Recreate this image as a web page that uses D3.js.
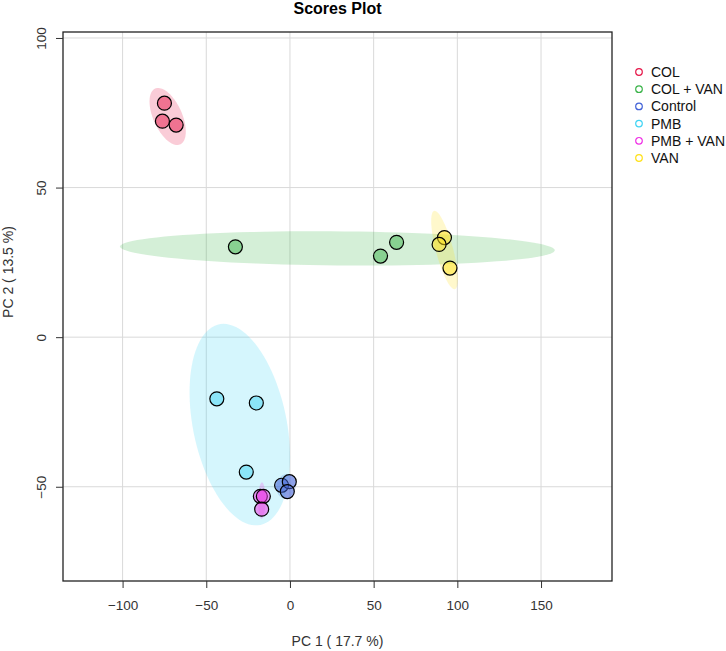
<!DOCTYPE html>
<html>
<head>
<meta charset="utf-8">
<script src="https://cdn.jsdelivr.net/npm/d3@7"></script>
<style>
  body { margin: 0; background: #fff; }
  text { font-family: "Liberation Sans", Arial, sans-serif; }
</style>
</head>
<body>
<svg id="chart" width="726" height="651"></svg>
<script>
// groups, in legend order
var groups = ["COL", "COL + VAN", "Control", "PMB", "PMB + VAN", "VAN"]
var colors = ["#E6194B", "#3CB44B", "#4363D8", "#42D4F4", "#F032E6", "#FFE119"]

// scores, one array per group
var pc1 = {
  "COL":       [-75.0, -76.2, -68.0],
  "COL + VAN": [-32.6, 54.1, 63.7],
  "Control":   [-5.0, -0.4, -1.6],
  "PMB":       [-43.7, -20.1, -26.1],
  "PMB + VAN": [-17.7, -15.9, -16.9],
  "VAN":       [92.3, 89.1, 95.6]
}
var pc2 = {
  "COL":       [78.2, 72.2, 70.9],
  "COL + VAN": [30.2, 27.1, 31.7],
  "Control":   [-49.5, -48.3, -51.6],
  "PMB":       [-20.6, -22.0, -45.1],
  "PMB + VAN": [-53.2, -53.2, -57.5],
  "VAN":       [33.3, 31.0, 23.1]
}

var xTicks = [-100, -50, 0, 50, 100, 150]
var yTicks = [-50, 0, 50, 100]

var plot = { left: 63, right: 612, top: 32, bottom: 581 }

var x = d3.scaleLinear().domain([-135.6, 192.4]).range([plot.left, plot.right])
var y = d3.scaleLinear().domain([-81.5, 102.0]).range([plot.bottom, plot.top])

var svg = d3.select("#chart")

/* grid */
svg.append("g").selectAll("line.vx")
  .data(xTicks).enter().append("line")
  .attr("x1", function(d) { return x(d) }).attr("x2", function(d) { return x(d) })
  .attr("y1", plot.top).attr("y2", plot.bottom)
  .style("stroke", "#d9d9d9").style("stroke-width", 1)
svg.append("g").selectAll("line.hy")
  .data(yTicks).enter().append("line")
  .attr("y1", function(d) { return y(d) }).attr("y2", function(d) { return y(d) })
  .attr("x1", plot.left).attr("x2", plot.right)
  .style("stroke", "#d9d9d9").style("stroke-width", 1)

/* 95% ellipse, same recipe as ellipse::ellipse in R */
function ellipsePts(xs, ys) {
  var n = xs.length
  var mx = d3.mean(xs), my = d3.mean(ys)
  var sxx = 0, syy = 0, sxy = 0
  for (var i = 0; i < n; i++) {
    sxx += (xs[i] - mx) * (xs[i] - mx)
    syy += (ys[i] - my) * (ys[i] - my)
    sxy += (xs[i] - mx) * (ys[i] - my)
  }
  sxx /= (n - 1); syy /= (n - 1); sxy /= (n - 1)
  var s1 = Math.sqrt(sxx), s2 = Math.sqrt(syy)
  var r = sxy / (s1 * s2)
  r = Math.max(-1, Math.min(1, r))
  var dd = Math.acos(r)
  var t = Math.sqrt(5.991465) // qchisq(0.95, 2)
  var pts = []
  for (var k = 0; k < 100; k++) {
    var a = k / 99 * 2 * Math.PI
    pts.push([mx + t * s1 * Math.cos(a + dd / 2), my + t * s2 * Math.cos(a - dd / 2)])
  }
  return pts
}

var line = d3.line()
  .x(function(d) { return x(d[0]) })
  .y(function(d) { return y(d[1]) })
  .curve(d3.curveLinearClosed)

svg.append("clipPath").attr("id", "clip")
  .append("rect").attr("x", plot.left).attr("y", plot.top)
  .attr("width", plot.right - plot.left).attr("height", plot.bottom - plot.top)

var layer = svg.append("g").attr("clip-path", "url(#clip)")

groups.forEach(function(g, i) {
  layer.append("path")
    .attr("d", line(ellipsePts(pc1[g], pc2[g])))
    .style("fill", colors[i])
    .style("fill-opacity", 0.22)
    .style("stroke", "none")
})

groups.forEach(function(g, i) {
  layer.selectAll(null)
    .data(pc1[g].map(function(v, j) { return [v, pc2[g][j]] }))
    .enter().append("circle")
    .attr("cx", function(d) { return x(d[0]) })
    .attr("cy", function(d) { return y(d[1]) })
    .attr("r", 7)
    .style("fill", colors[i])
    .style("fill-opacity", 0.5)
    .style("stroke", "#000")
    .style("stroke-width", 1.2)
})

/* box */
svg.append("rect")
  .attr("x", plot.left).attr("y", plot.top)
  .attr("width", plot.right - plot.left).attr("height", plot.bottom - plot.top)
  .style("fill", "none").style("stroke", "#222").style("stroke-width", 1.3)

/* axes */
var xAxis = d3.axisBottom(x).tickValues(xTicks).tickSize(7).tickPadding(12)
var yAxis = d3.axisLeft(y).tickValues(yTicks).tickSize(7).tickPadding(10)

var gx = svg.append("g").attr("transform", "translate(0," + plot.bottom + ")").call(xAxis)
gx.select(".domain").remove()
gx.selectAll("line").style("stroke", "#333")
gx.selectAll("text").style("font-size", "13.5px").style("fill", "#333")

var gy = svg.append("g").attr("transform", "translate(" + plot.left + ",0)").call(yAxis)
gy.select(".domain").remove()
gy.selectAll("line").style("stroke", "#333")
// tick texts sit inside groups already moved to y(d)
gy.selectAll("text")
  .style("font-size", "13.5px").style("fill", "#333")
  .attr("text-anchor", "middle")
  .attr("x", -22).attr("y", 0).attr("dy", "0.35em")
  .attr("transform", "rotate(-90,-22,0)")

/* titles */
svg.append("text")
  .attr("x", (plot.left + plot.right) / 2).attr("y", 14)
  .attr("text-anchor", "middle")
  .style("font-size", "16px").style("font-weight", "bold")
  .text("Scores Plot")

svg.append("text")
  .attr("x", (plot.left + plot.right) / 2).attr("y", 646)
  .attr("text-anchor", "middle")
  .style("font-size", "14px").style("fill", "#333")
  .text("PC 1 ( 17.7 %)")

svg.append("text")
  .attr("transform", "translate(13,272) rotate(-90)")
  .attr("text-anchor", "middle")
  .style("font-size", "14px").style("fill", "#333")
  .text("PC 2 ( 13.5 %)")

/* legend */
var leg = svg.append("g").attr("transform", "translate(639,72)")
groups.forEach(function(g, i) {
  var row = leg.append("g").attr("transform", "translate(0," + (i * 17.2) + ")")
  row.append("circle").attr("r", 3.3)
    .style("fill", "none").style("stroke", colors[i]).style("stroke-width", 1.2)
  row.append("text").attr("x", 12).attr("dy", "0.35em")
    .style("font-size", "14px").style("fill", "#111")
    .text(g)
})
</script>
</body>
</html>
